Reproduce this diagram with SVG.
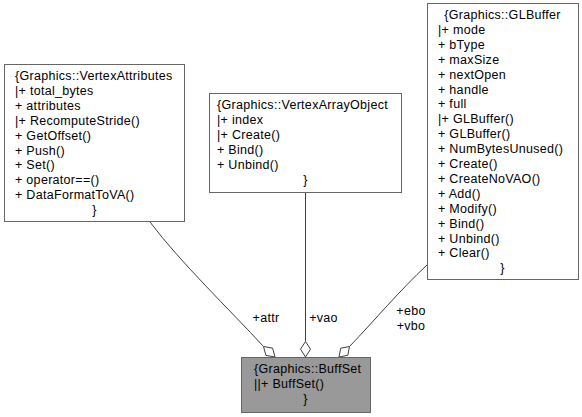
<svg xmlns="http://www.w3.org/2000/svg" width="582" height="417" viewBox="0 0 582 417">
<style>
text{font-family:"Liberation Sans",Arial,sans-serif;font-size:12.5px;letter-spacing:0.3px;fill:#000}
.box{fill:#fff;stroke:#666;stroke-width:1}
.cur{fill:#999;stroke:#666;stroke-width:1}
.c{text-anchor:middle}
.edge{fill:none;stroke:#404040;stroke-width:1}
.dia{fill:#fff;stroke:#404040;stroke-width:1}
</style>
<rect width="582" height="417" fill="#fff"/>
<g id="connectors">
<path class="edge" d="M150,222 C180,262 230,310 263.5,346.5"/>
<polygon class="dia" points="263.5,346.5 265.9,355.4 275,357 272.6,348.1"/>
<path class="edge" d="M305.5,192 V341.5"/>
<polygon class="dia" points="305.5,341.5 300.5,349.2 305.5,357 310.5,349.2"/>
<path class="edge" d="M427,265 C400,290 375,320 349.5,346.5"/>
<polygon class="dia" points="349.5,346.5 347.8,355.3 339,357 340.7,348.2"/>
<text x="266" y="322" class="c">+attr</text>
<text x="323.5" y="322" class="c">+vao</text>
<text x="411" y="314.5" class="c">+ebo</text>
<text x="411" y="329.5" class="c">+vbo</text>
</g>
<g id="VertexAttributes">
<rect class="box" x="4.5" y="64.5" width="180" height="157"/>
<text x="15" y="80">{Graphics::VertexAttributes</text>
<text x="15" y="94.9">|+ total_bytes</text>
<text x="15" y="109.8">+ attributes</text>
<text x="15" y="124.7">|+ RecomputeStride()</text>
<text x="15" y="139.6">+ GetOffset()</text>
<text x="15" y="154.5">+ Push()</text>
<text x="15" y="169.4">+ Set()</text>
<text x="15" y="184.3">+ operator==()</text>
<text x="15" y="199.2">+ DataFormatToVA()</text>
<text x="94.5" y="214.1" class="c">}</text>
</g>
<g id="VertexArrayObject">
<rect class="box" x="209.5" y="93.5" width="192" height="99"/>
<text x="217" y="109">{Graphics::VertexArrayObject</text>
<text x="217" y="123.9">|+ index</text>
<text x="217" y="138.8">|+ Create()</text>
<text x="217" y="153.7">+ Bind()</text>
<text x="217" y="168.6">+ Unbind()</text>
<text x="305.5" y="183.5" class="c">}</text>
</g>
<g id="GLBuffer">
<rect class="box" x="427.5" y="3.5" width="151" height="276"/>
<text x="502.5" y="19" class="c">{Graphics::GLBuffer</text>
<text x="438" y="33.9">|+ mode</text>
<text x="438" y="48.8">+ bType</text>
<text x="438" y="63.7">+ maxSize</text>
<text x="438" y="78.6">+ nextOpen</text>
<text x="438" y="93.5">+ handle</text>
<text x="438" y="108.4">+ full</text>
<text x="438" y="123.3">|+ GLBuffer()</text>
<text x="438" y="138.2">+ GLBuffer()</text>
<text x="438" y="153.1">+ NumBytesUnused()</text>
<text x="438" y="168">+ Create()</text>
<text x="438" y="182.9">+ CreateNoVAO()</text>
<text x="438" y="197.8">+ Add()</text>
<text x="438" y="212.7">+ Modify()</text>
<text x="438" y="227.6">+ Bind()</text>
<text x="438" y="242.5">+ Unbind()</text>
<text x="438" y="257.4">+ Clear()</text>
<text x="502.5" y="272.3" class="c">}</text>
</g>
<g id="BuffSet">
<rect class="cur" x="241.5" y="357.5" width="129" height="55"/>
<text x="254" y="373">{Graphics::BuffSet</text>
<text x="254" y="388">||+ BuffSet()</text>
<text x="305.5" y="403" class="c">}</text>
</g>
</svg>
